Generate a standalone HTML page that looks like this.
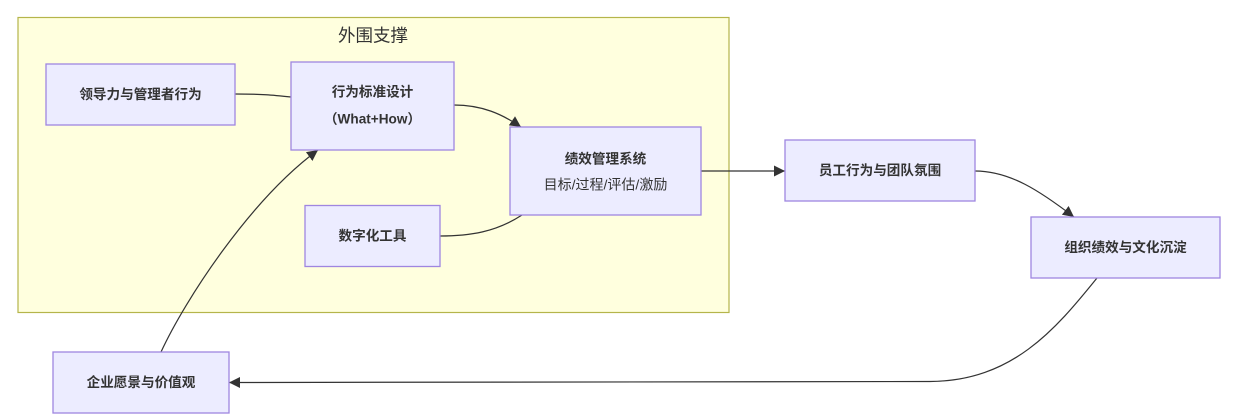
<!DOCTYPE html>
<html>
<head>
<meta charset="utf-8">
<style>
  html,body{margin:0;padding:0;background:#ffffff;}
  body{width:1260px;height:418px;overflow:hidden;}
  svg{display:block;}
  .t{font-family:"Liberation Sans","Noto Sans CJK SC",sans-serif;fill:#333;}
  .b{font-weight:bold;font-size:13.6px;}
  .r{font-size:14px;}
  .node{fill:#ECECFF;stroke:#9f86e0;stroke-width:1.3;}
  .edge{fill:none;stroke:#333;stroke-width:1.2;}
</style>
</head>
<body>
<svg width="1260" height="418" viewBox="0 0 1260 418" xmlns="http://www.w3.org/2000/svg">
  <defs>
    <marker id="ah" markerUnits="userSpaceOnUse" viewBox="0 0 10 10" refX="10" refY="5" markerWidth="11" markerHeight="11" orient="auto">
      <path d="M0,0 L10,5 L0,10 z" fill="#333"/>
    </marker>
  </defs>

  <!-- cluster -->
  <rect x="18" y="17.5" width="711" height="295" fill="#ffffde" stroke="#b5b54a" stroke-width="1.2"/>
  <text class="t" x="373" y="35.5" font-size="17.5" text-anchor="middle" dominant-baseline="central">外围支撑</text>

  <!-- edges -->
  <path class="edge" d="M235,94 C262,94 272,95 291,97"/>
  <path class="edge" d="M454,105 C482,105 502,114 521,127" marker-end="url(#ah)"/>
  <path class="edge" d="M440,236 C470,236 496,232 522,215"/>
  <path class="edge" d="M701,171 L785,171" marker-end="url(#ah)"/>
  <path class="edge" d="M975,171 C1010,171 1040,191 1074,217" marker-end="url(#ah)"/>
  <path class="edge" d="M1097,278 C1055,330 1012,381 930,381.5 L229,382.5" marker-end="url(#ah)"/>
  <path class="edge" d="M161,352 C185,300 250,200 318,150" marker-end="url(#ah)"/>

  <!-- nodes -->
  <rect class="node" x="46" y="64" width="189" height="61"/>
  <text class="t b" x="140.5" y="94.5" text-anchor="middle" dominant-baseline="central">领导力与管理者行为</text>

  <rect class="node" x="291" y="62" width="163" height="88"/>
  <text class="t b" x="372.5" y="92" text-anchor="middle" dominant-baseline="central">行为标准设计</text>
  <text class="t b" x="372.5" y="119" text-anchor="middle" dominant-baseline="central">（What+How）</text>

  <rect class="node" x="510" y="127" width="191" height="88"/>
  <text class="t b" x="605.5" y="159" text-anchor="middle" dominant-baseline="central">绩效管理系统</text>
  <text class="t r" x="605.5" y="184.5" text-anchor="middle" dominant-baseline="central">目标/过程/评估/激励</text>

  <rect class="node" x="785" y="140" width="190" height="61"/>
  <text class="t b" x="880" y="170.5" text-anchor="middle" dominant-baseline="central">员工行为与团队氛围</text>

  <rect class="node" x="1031" y="217" width="189" height="61"/>
  <text class="t b" x="1125.5" y="247.5" text-anchor="middle" dominant-baseline="central">组织绩效与文化沉淀</text>

  <rect class="node" x="305" y="205.5" width="135" height="61"/>
  <text class="t b" x="372.5" y="236" text-anchor="middle" dominant-baseline="central">数字化工具</text>

  <rect class="node" x="53" y="352" width="176" height="61"/>
  <text class="t b" x="141" y="382.5" text-anchor="middle" dominant-baseline="central">企业愿景与价值观</text>
</svg>
</body>
</html>
